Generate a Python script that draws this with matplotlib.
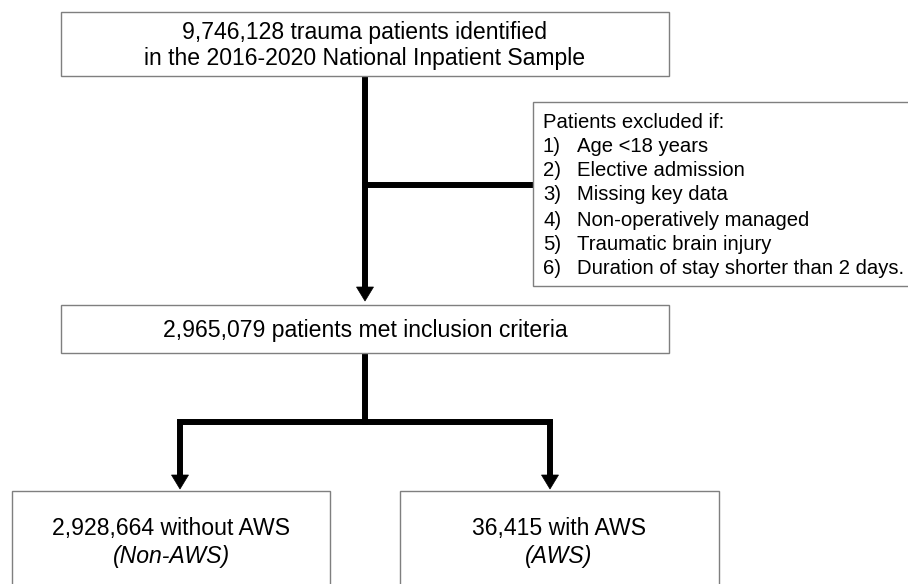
import matplotlib
matplotlib.use("Agg")
import matplotlib.pyplot as plt
from matplotlib.patches import Rectangle, Polygon

# ---- content ----
top_lines = ["9,746,128 trauma patients identified",
             "in the 2016-2020 National Inpatient Sample"]
excl_header = "Patients excluded if:"
excl_nums = ["1)", "2)", "3)", "4)", "5)", "6)"]
excl_items = ["Age <18 years", "Elective admission", "Missing key data",
              "Non-operatively managed", "Traumatic brain injury",
              "Duration of stay shorter than 2 days."]
mid_text = "2,965,079 patients met inclusion criteria"
left_lines = ["2,928,664 without AWS", "(Non-AWS)"]
right_lines = ["36,415 with AWS", "(AWS)"]

# ---- layout (pixel space) ----
W, H = 908, 584
fig = plt.figure(figsize=(W / 100, H / 100), dpi=100)
ax = fig.add_axes([0, 0, 1, 1])
ax.set_xlim(0, W)
ax.set_ylim(H, 0)
ax.axis("off")

plt.rcParams['font.family'] = ['Liberation Sans', 'DejaVu Sans']
FS = 16.6
FS_EX = 14.6
edge = "#7f7f7f"
LW = 4.3

def box(x0, y0, x1, y1):
    ax.add_patch(Rectangle((x0, y0), x1 - x0, y1 - y0, fill=True, facecolor="white",
                           edgecolor=edge, lw=1.0, zorder=2))

def line(xs, ys):
    ax.plot(xs, ys, color="black", lw=LW, solid_capstyle="projecting", zorder=1)

def arrow(x, y0, y1, hw=8.5, hl=14):
    ax.plot([x, x], [y0, y1 - hl + 1], color="black", lw=LW, solid_capstyle="butt", zorder=1)
    ax.add_patch(Polygon([(x - hw, y1 - hl), (x + hw, y1 - hl), (x, y1)],
                         closed=True, facecolor="black", edgecolor="black", lw=0.5, zorder=3))

# top box
box(61, 12, 669, 76)
ax.text(365, 32, top_lines[0], ha="center", va="center", fontsize=FS, zorder=4)
ax.text(365, 58, top_lines[1], ha="center", va="center", fontsize=FS, zorder=4)

# main vertical + exclusion branch
arrow(365, 76, 301)
line([365, 533], [185, 185])

# exclusion box
box(533, 102, 915, 286)
ys = [123, 147, 171, 195, 220, 244, 268]
ax.text(543, ys[0], excl_header, ha="left", va="center", fontsize=FS_EX, zorder=4)
for y, n, t in zip(ys[1:], excl_nums, excl_items):
    ax.text(543, y, n, ha="left", va="center", fontsize=FS_EX, zorder=4)
    ax.text(577, y, t, ha="left", va="center", fontsize=FS_EX, zorder=4)

# middle box
box(61, 305, 669, 353)
ax.text(365, 331, mid_text, ha="center", va="center", fontsize=FS, zorder=4)

# split
line([365, 365], [353, 422])
line([180, 550], [422, 422])
arrow(180, 422, 489)
arrow(550, 422, 489)

# bottom boxes
box(12, 491, 330, 600)
box(400, 491, 719, 600)
ax.text(171, 529, left_lines[0], ha="center", va="center", fontsize=FS, zorder=4)
ax.text(171, 556, left_lines[1], ha="center", va="center", fontsize=FS, style="italic", zorder=4)
ax.text(559, 529, right_lines[0], ha="center", va="center", fontsize=FS, zorder=4)
ax.text(559, 556, right_lines[1], ha="center", va="center", fontsize=FS, style="italic", zorder=4)

fig.savefig("out.png", dpi=100, facecolor="white")
